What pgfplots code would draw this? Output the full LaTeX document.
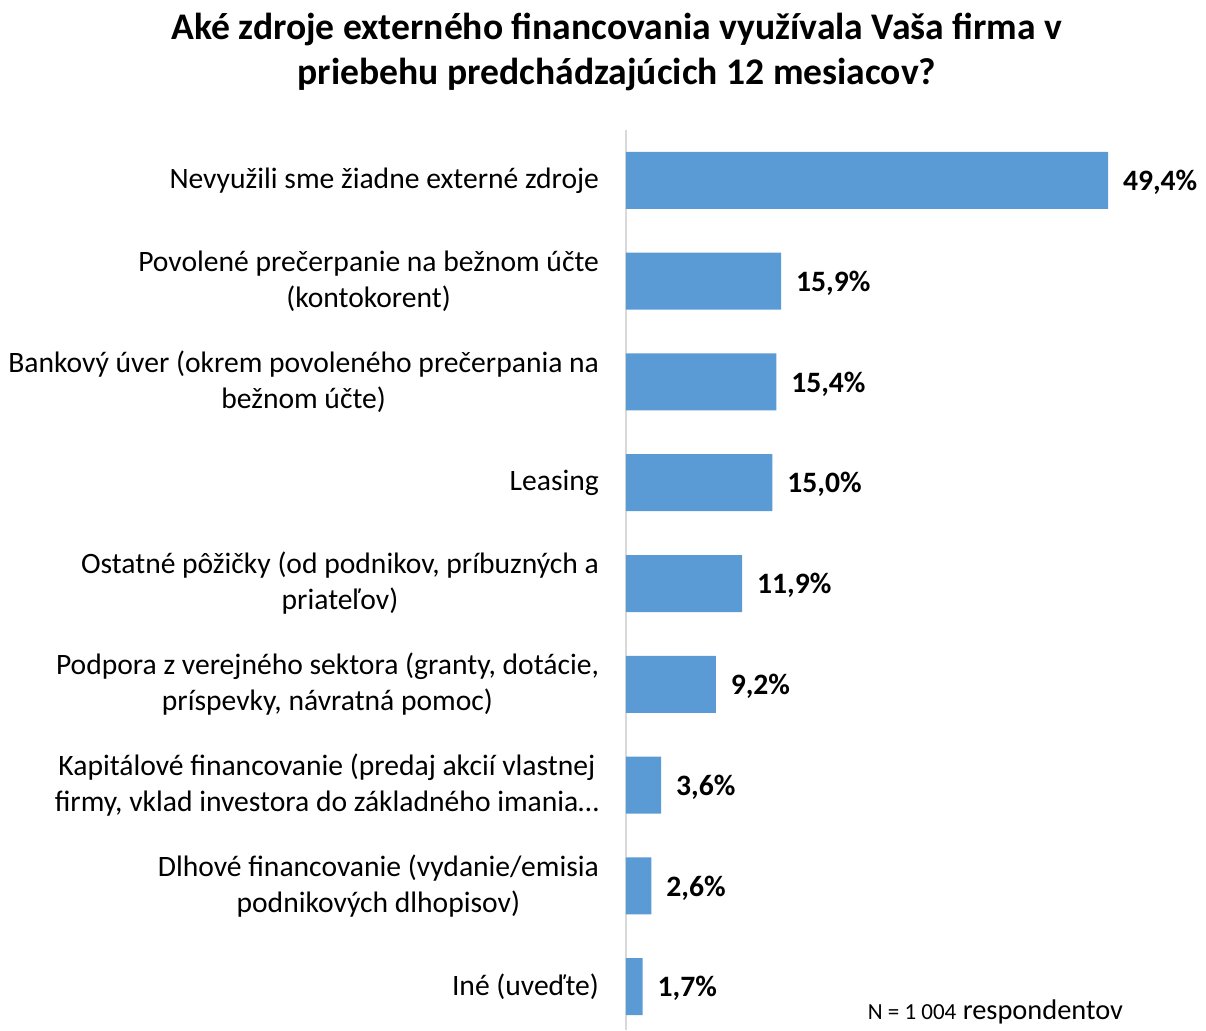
\documentclass[border=0pt]{standalone}
\usepackage{fontspec}
\setmainfont{Carlito}
\usepackage{pgfplots}
\pgfplotsset{compat=1.18}
\definecolor{barblue}{HTML}{5B9BD5}
\definecolor{axgray}{HTML}{D9D9D9}

\begin{document}
\begin{tikzpicture}
\useasboundingbox (-313pt,0pt) rectangle (290pt,515pt);
\begin{axis}[
    at={(0pt,0pt)}, anchor=south west,
    scale only axis,
    width=282pt, height=450pt,
    xbar, bar width=28.5pt,
    xmin=0, xmax=57.8,
    ymin=-0.43, ymax=8.5,
    axis x line=none,
    axis y line*=left,
    y axis line style={axgray, line width=1pt},
    ytick={0,...,8},
    major tick length=0pt,
    yticklabels={
        {Iné (uveďte)},
        {Dlhové financovanie (vydanie/emisia\\podnikových dlhopisov)},
        {Kapitálové financovanie (predaj akcií vlastnej\\firmy, vklad investora do základného imania…},
        {Podpora z verejného sektora (granty, dotácie,\\príspevky, návratná pomoc)},
        {Ostatné pôžičky (od podnikov, príbuzných a\\priateľov)},
        {Leasing},
        {Bankový úver (okrem povoleného prečerpania na\\bežnom účte)},
        {Povolené prečerpanie na bežnom účte\\(kontokorent)},
        {Nevyužili sme žiadne externé zdroje}
    },
    yticklabel style={align=center, font=\fontsize{14.8}{18}\selectfont, xshift=-10pt},
    /pgf/number format/assume math mode=true,
    nodes near coords={\pgfmathprintnumber[fixed, fixed zerofill, precision=1, use comma, assume math mode=true]{\pgfplotspointmeta}\%},
    nodes near coords style={font=\fontsize{14.8}{18}\selectfont\bfseries, xshift=4pt, yshift=-1pt},
    point meta=x,
    title={Aké zdroje externého financovania využívala Vaša firma v\\priebehu predchádzajúcich 12 mesiacov?},
    title style={at={(rel axis cs:0,1)}, anchor=center, xshift=-4.5pt, yshift=33pt,
        align=center, font=\fontsize{18.8}{22.5}\selectfont\bfseries},
    clip=false,
]
\addplot[fill=barblue, draw=none] coordinates {
    (1.7,0) (2.6,1) (3.6,2) (9.2,3) (11.9,4) (15.0,5) (15.4,6) (15.9,7) (49.4,8)
};
\node[anchor=base, font=\fontsize{14.2}{16}\selectfont] at (rel axis cs:0.655,0.012)
    {{\fontsize{11.5}{13}\selectfont N = 1 004} respondentov};
\end{axis}
\end{tikzpicture}
\end{document}
